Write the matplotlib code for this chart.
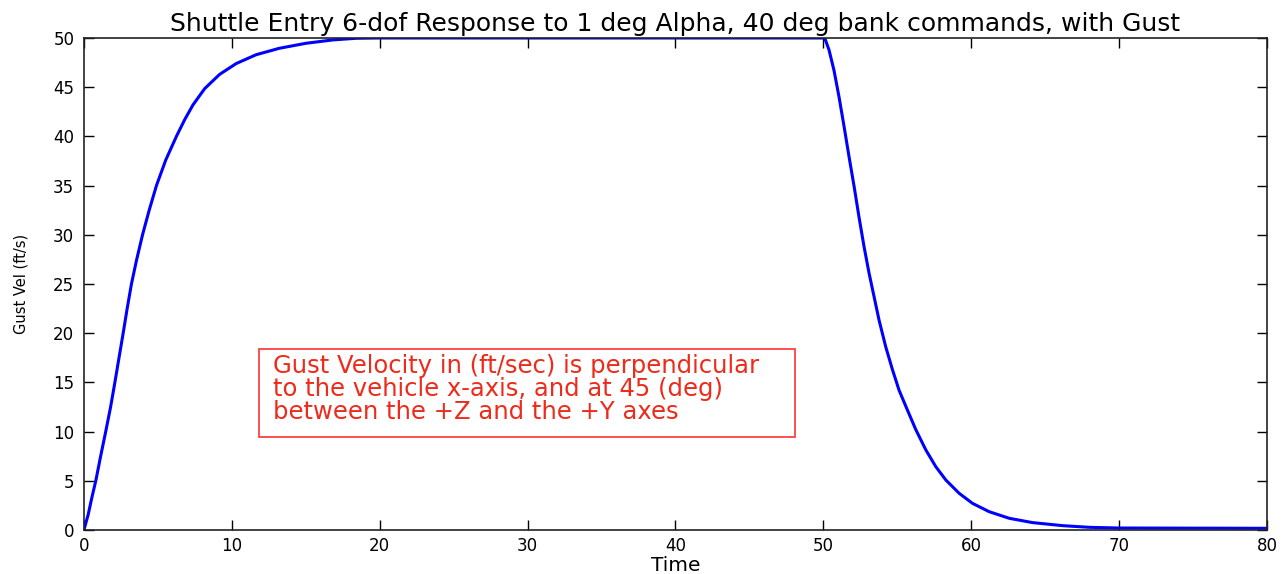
import numpy as np
import matplotlib.pyplot as plt
from matplotlib.patches import Rectangle

plt.rcParams['font.family'] = ['DejaVu Sans']

# gust velocity history (ft/s) vs time (s)
time = [0, 0.29, 0.52, 0.81, 1.12, 1.47, 1.80, 2.09, 2.38, 2.65, 2.92, 3.21, 3.55,
        3.96, 4.41, 4.90, 5.53, 6.25, 6.81, 7.37, 8.16, 9.17, 10.29, 11.64, 13.2,
        15.0, 16.8, 18.4, 20.0, 30.0, 40.0, 50.0,
        50.09, 50.38, 50.72, 51.06, 51.40, 51.74, 52.08, 52.41, 52.75, 53.09,
        53.43, 53.77, 54.22, 54.67, 55.12, 55.68, 56.25, 56.93, 57.60, 58.28,
        59.18, 60.08, 61.21, 62.56, 64.14, 66.17, 67.98, 70.0, 80.0]
gust_vel = [0, 1.6, 3.2, 5.08, 7.45, 10.0, 12.5, 15.0, 17.6, 20.0, 22.5, 25.0, 27.4,
            30.0, 32.5, 35.0, 37.6, 40.0, 41.7, 43.2, 44.85, 46.3, 47.4, 48.3, 48.95,
            49.46, 49.8, 49.97, 50.0, 50.0, 50.0, 50.0,
            50.0, 48.8, 46.7, 44.0, 41.0, 37.9, 34.9, 31.8, 28.8, 26.1,
            23.7, 21.3, 18.6, 16.3, 14.2, 12.2, 10.2, 8.13, 6.44, 5.08,
            3.73, 2.71, 1.86, 1.19, 0.75, 0.44, 0.27, 0.2, 0.17]

note = ('Gust Velocity in (ft/sec) is perpendicular\n'
        'to the vehicle x-axis, and at 45 (deg)\n'
        'between the +Z and the +Y axes')

fig = plt.figure(figsize=(12.88, 5.74), dpi=100)
ax = fig.add_axes([0.0652, 0.0767, 0.9185, 0.8571])

ax.plot(time, gust_vel, color='#0000ff', lw=2.2)

ax.set_xlim(0, 80)
ax.set_ylim(0, 50)
ax.set_xticks(np.arange(0, 81, 10))
ax.set_yticks(np.arange(0, 51, 5))
ax.tick_params(direction='in', length=7, width=1, top=True, right=True,
               labelsize=12)
ax.tick_params(axis='x', pad=5)
ax.tick_params(axis='y', pad=7)
for s in ax.spines.values():
    s.set_linewidth(1.2)
    s.set_color('#222222')

ax.set_title('Shuttle Entry 6-dof Response to 1 deg Alpha, 40 deg bank commands, with Gust',
             fontsize=18, pad=5)
ax.set_xlabel('Time', fontsize=14.5, labelpad=1)
ax.set_ylabel('Gust Vel (ft/s)', fontsize=10.5)
ax.yaxis.set_label_coords(-0.047, 0.5)

# annotation box
ax.add_patch(Rectangle((0.1479, 0.1888), 0.4533, 0.1789, transform=ax.transAxes,
                       fill=False, edgecolor='#ff4040', lw=1.3))
ax.text(0.1598, 0.358, note, transform=ax.transAxes, color='#ee2a1a',
        fontsize=17.5, va='top', ha='left', linespacing=0.95)

plt.savefig('out.png', dpi=100)
